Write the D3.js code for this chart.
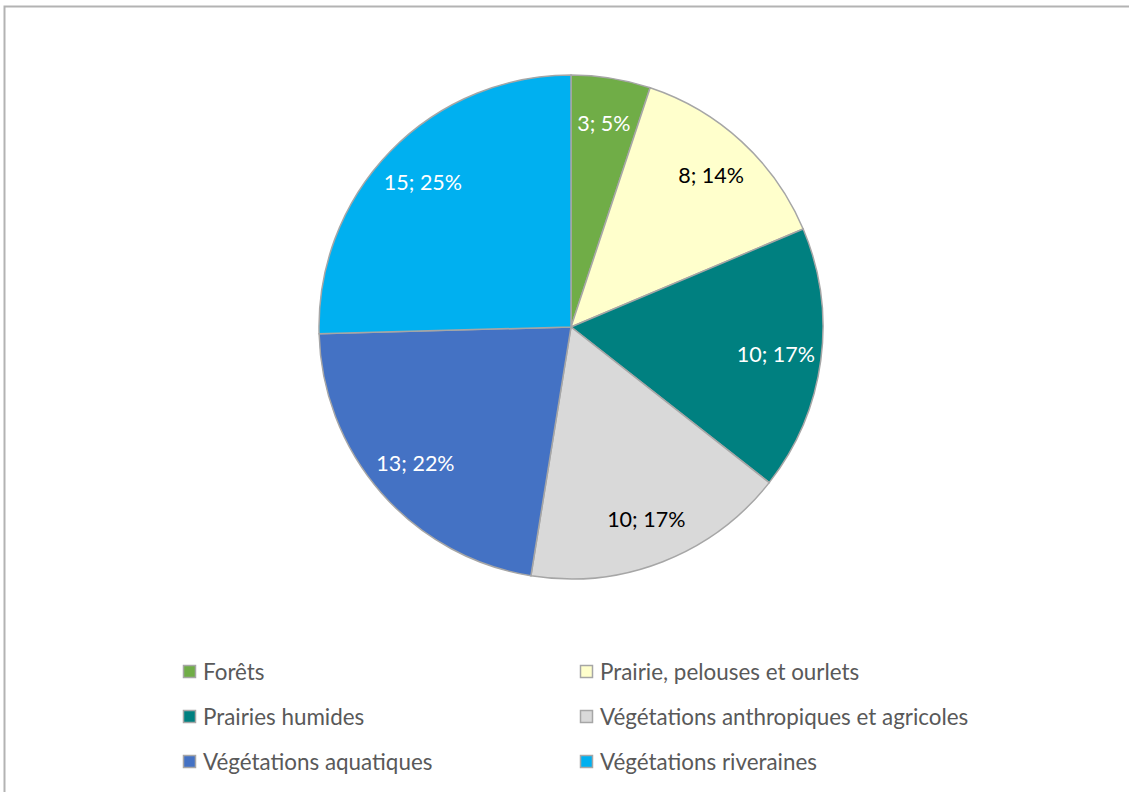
<!DOCTYPE html>
<html><head><meta charset="utf-8">
<script src="https://cdn.jsdelivr.net/npm/d3@7"></script>
<style>html,body{margin:0;padding:0;background:#fff;overflow:hidden}</style>
</head><body>
<svg id="c" width="1129" height="792"></svg>
<script>
const categories = ["Forêts","Prairie, pelouses et ourlets","Prairies humides","Végétations anthropiques et agricoles","Végétations aquatiques","Végétations riveraines"];
const values = [3, 8, 10, 10, 13, 15];
const colors = ["#70AD47","#FFFFCC","#008080","#D9D9D9","#4472C4","#00B0F0"];
const labelColors = ["#ffffff","#000000","#ffffff","#000000","#ffffff","#ffffff"];

const svg = d3.select("#c");
const font = "Lato, 'Noto Sans', sans-serif";

// chart border
svg.append("rect").attr("x",4.5).attr("y",6.5).attr("width",1140).attr("height",800)
  .attr("fill","#fff").attr("stroke","#b3b3b3").attr("stroke-width",2);

const cx = 571, cy = 327, R = 252;
const total = d3.sum(values);
const pie = d3.pie().sort(null).value(d=>d)(values);
const arc = d3.arc().innerRadius(0).outerRadius(R);
const labelArc = d3.arc().innerRadius(R*0.82).outerRadius(R*0.82);

const g = svg.append("g").attr("transform",`translate(${cx},${cy})`);
g.selectAll("path").data(pie).join("path")
  .attr("d",arc).attr("fill",(d,i)=>colors[i])
  .attr("stroke","#a6a6a6").attr("stroke-width",1.5);

g.selectAll("text").data(pie).join("text")
  .attr("transform",d=>`translate(${labelArc.centroid(d)})`)
  .attr("text-anchor","middle").attr("dy","0.35em")
  .attr("font-family",font).attr("font-size",21.5)
  .attr("fill",(d,i)=>labelColors[i])
  .text((d,i)=>`${values[i]}; ${Math.round(values[i]/total*100)}%`);

// legend
const colX = [183, 580], rowY = [672, 717, 762];
const lg = svg.append("g");
categories.forEach((c,i)=>{
  const x = colX[i%2], y = rowY[Math.floor(i/2)];
  lg.append("rect").attr("x",x+0.5).attr("y",y-6.5).attr("width",12).attr("height",12)
    .attr("fill",colors[i]).attr("stroke","#a6a6a6").attr("stroke-width",1.5);
  lg.append("text").attr("x",x+20).attr("y",y).attr("dy","0.35em")
    .attr("font-family",font).attr("font-size",22.4).attr("fill","#595959").text(c);
});
</script>
</body></html>
